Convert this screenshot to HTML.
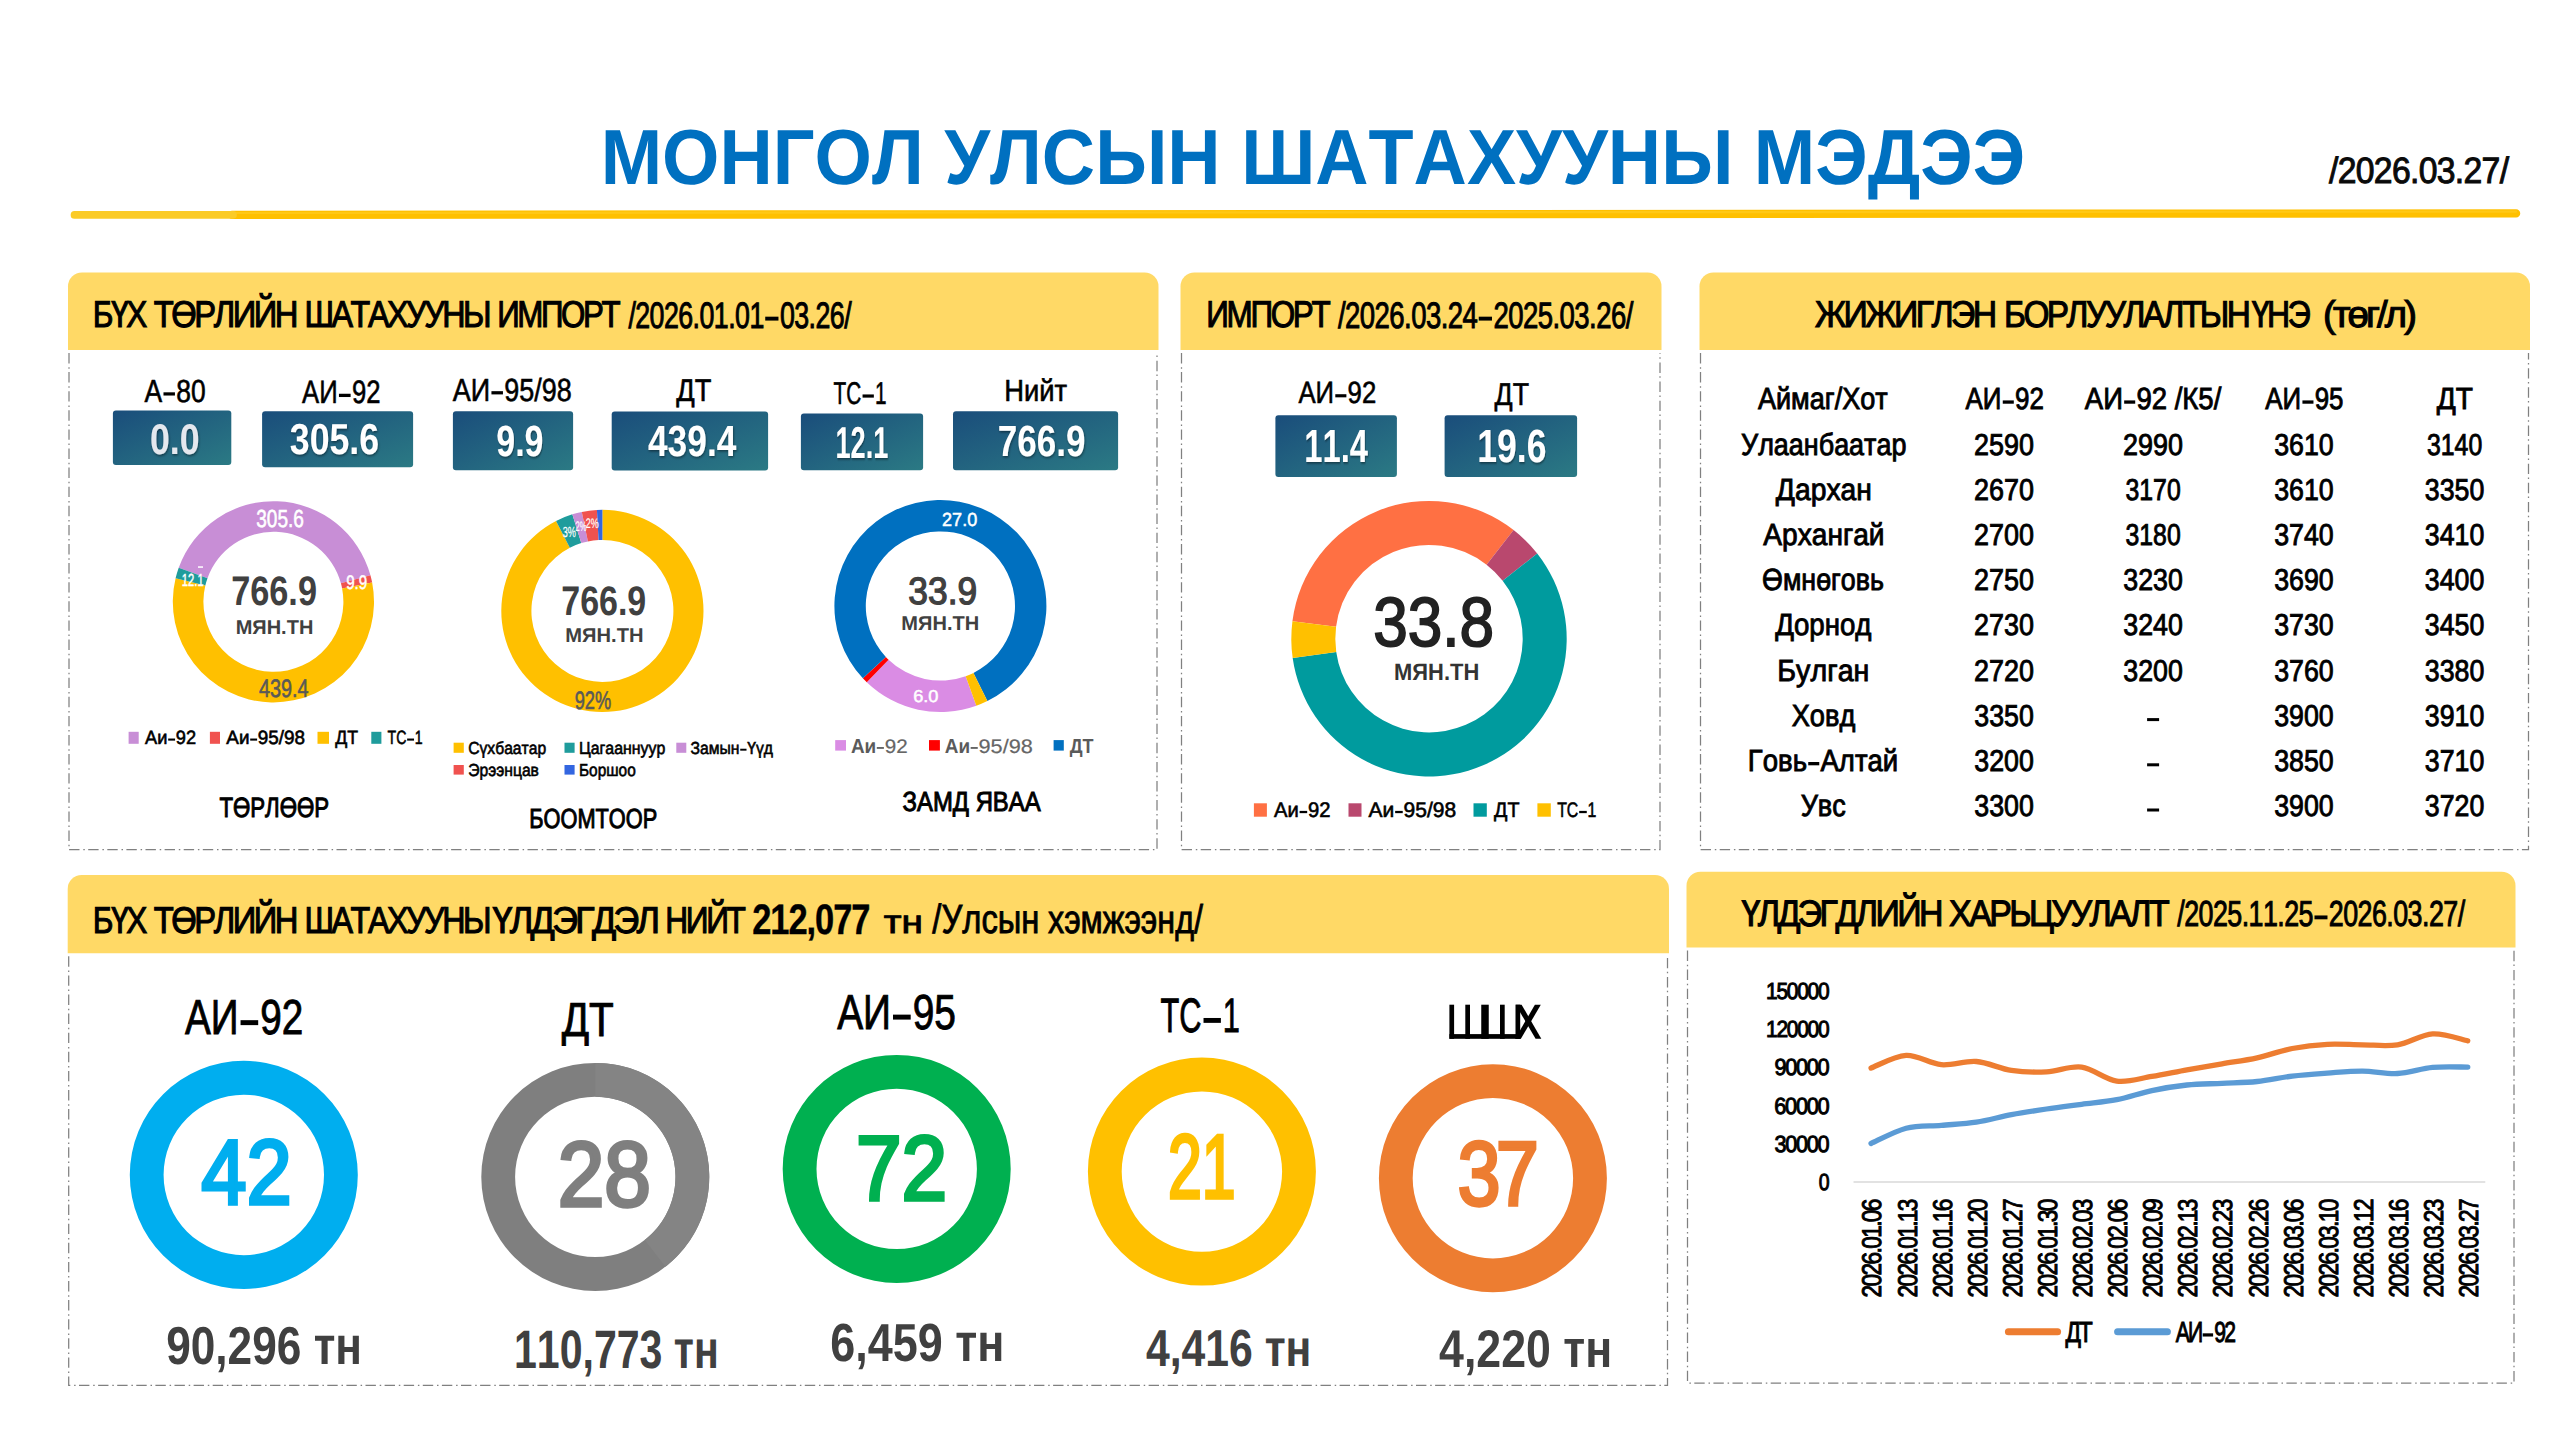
<!DOCTYPE html>
<html><head><meta charset="utf-8"><title>Монгол улсын шатахууны мэдээ</title>
<style>
html,body{margin:0;padding:0;background:#fff;}
body{width:2560px;height:1440px;overflow:hidden;}
svg{display:block;font-family:"Liberation Sans",sans-serif;font-kerning:none;text-rendering:geometricPrecision;}
</style></head><body>
<svg width="2560" height="1440" viewBox="0 0 2560 1440">
<rect width="2560" height="1440" fill="#fff"/>
<defs>
<linearGradient id="gb" x1="0" y1="0" x2="1" y2="1">
<stop offset="0" stop-color="#1a4d7b"/><stop offset="1" stop-color="#2b7a84"/>
</linearGradient>
<filter id="ts" x="-10%" y="-10%" width="120%" height="130%">
<feDropShadow dx="0.8" dy="1.5" stdDeviation="1" flood-color="#000" flood-opacity="0.45"/>
</filter>
</defs>
<text transform="translate(600.66,184.30) scale(0.9435,1)" font-size="78.20" font-weight="700" fill="#0070C0">МОНГОЛ УЛСЫН ШАТАХУУНЫ МЭДЭЭ</text>
<text transform="translate(2329.00,183.10) scale(0.9185,1)" font-size="36.71" font-weight="400" fill="#0a0a0a" stroke="#0a0a0a" stroke-width="1.00" stroke-linejoin="miter" letter-spacing="-0.734">/2026.03.27/</text>
<line x1="2516.1" y1="213.4" x2="232" y2="214.85" stroke="#FFC000" stroke-width="8.3" stroke-linecap="round"/>
<line x1="2516.1" y1="211.6" x2="232" y2="213.0" stroke="#FFD028" stroke-width="2.2" stroke-linecap="round" opacity="0.55"/>
<line x1="74.5" y1="214.9" x2="233" y2="214.85" stroke="#FBCB27" stroke-width="7.7" stroke-linecap="round"/>
<path fill="#FFD966" d="M68.0,350.0 V286.5 a14,14 0 0 1 14,-14 H1144.5 a14,14 0 0 1 14,14 V350.0 Z"/>
<path fill="none" stroke="#808080" stroke-width="1.25" stroke-dasharray="10.4 3.8 1.5 3.4" d="M69.0,353.0 V849.5 H1157.0 V353.0"/>
<path fill="#FFD966" d="M1180.5,350.0 V286.5 a14,14 0 0 1 14,-14 H1647.5 a14,14 0 0 1 14,14 V350.0 Z"/>
<path fill="none" stroke="#808080" stroke-width="1.25" stroke-dasharray="10.4 3.8 1.5 3.4" d="M1181.5,353.0 V849.5 H1660.0 V353.0"/>
<path fill="#FFD966" d="M1699.5,350.0 V286.5 a14,14 0 0 1 14,-14 H2516.0 a14,14 0 0 1 14,14 V350.0 Z"/>
<path fill="none" stroke="#808080" stroke-width="1.25" stroke-dasharray="10.4 3.8 1.5 3.4" d="M1700.5,353.0 V849.5 H2528.5 V353.0"/>
<path fill="#FFD966" d="M67.7,953.3 V889.0 a14,14 0 0 1 14,-14 H1655.0 a14,14 0 0 1 14,14 V953.3 Z"/>
<path fill="none" stroke="#808080" stroke-width="1.25" stroke-dasharray="10.4 3.8 1.5 3.4" d="M68.7,956.3 V1385.3 H1667.5 V956.3"/>
<path fill="#FFD966" d="M1686.5,947.5 V885.7 a14,14 0 0 1 14,-14 H2501.5 a14,14 0 0 1 14,14 V947.5 Z"/>
<path fill="none" stroke="#808080" stroke-width="1.25" stroke-dasharray="10.4 3.8 1.5 3.4" d="M1687.5,950.5 V1383.0 H2514.0 V950.5"/>
<text transform="translate(92.86,327.45) scale(0.8447,1)" font-size="37.28" font-weight="400" fill="#000" stroke="#000" stroke-width="1.10" stroke-linejoin="miter" letter-spacing="-2.796">БҮХ</text>
<text transform="translate(153.80,327.45) scale(0.8779,1)" font-size="37.28" font-weight="400" fill="#000" stroke="#000" stroke-width="1.10" stroke-linejoin="miter" letter-spacing="-2.796">ТӨРЛИЙН</text>
<text transform="translate(304.39,327.45) scale(0.8653,1)" font-size="37.28" font-weight="400" fill="#000" stroke="#000" stroke-width="1.10" stroke-linejoin="miter" letter-spacing="-2.796">ШАТАХУУНЫ</text>
<text transform="translate(497.18,327.45) scale(0.8384,1)" font-size="37.28" font-weight="400" fill="#000" stroke="#000" stroke-width="1.10" stroke-linejoin="miter" letter-spacing="-2.796">ИМПОРТ</text>
<text transform="translate(628.40,327.50) scale(0.7268,1)" font-size="36.79" font-weight="400" fill="#000" stroke="#000" stroke-width="1.00" stroke-linejoin="miter" letter-spacing="-0.736">/2026.01.01<tspan dx="22.27">03.26/</tspan></text>
<rect x="765.23" y="316.68" width="13.24" height="3.91" fill="#000"/>
<text transform="translate(1206.36,327.45) scale(0.8440,1)" font-size="37.28" font-weight="400" fill="#000" stroke="#000" stroke-width="1.10" stroke-linejoin="miter" letter-spacing="-2.796">ИМПОРТ</text>
<text transform="translate(1337.90,327.50) scale(0.7484,1)" font-size="36.79" font-weight="400" fill="#000" stroke="#000" stroke-width="1.00" stroke-linejoin="miter" letter-spacing="-0.736">/2026.03.24<tspan dx="21.63">2025.03.26/</tspan></text>
<rect x="1478.75" y="316.68" width="13.24" height="3.91" fill="#000"/>
<text transform="translate(1814.98,327.45) scale(0.9061,1)" font-size="37.28" font-weight="400" fill="#000" stroke="#000" stroke-width="1.10" stroke-linejoin="miter" letter-spacing="-2.796">ЖИЖИГЛЭН</text>
<text transform="translate(2004.00,327.45) scale(0.8955,1)" font-size="37.28" font-weight="400" fill="#000" stroke="#000" stroke-width="1.10" stroke-linejoin="miter" letter-spacing="-2.796">БОРЛУУЛАЛТЫН</text>
<text transform="translate(2251.63,327.45) scale(0.8574,1)" font-size="37.28" font-weight="400" fill="#000" stroke="#000" stroke-width="1.10" stroke-linejoin="miter" letter-spacing="-2.796">ҮНЭ</text>
<text transform="translate(2323.07,327.45) scale(1.0250,1)" font-size="37.28" font-weight="400" fill="#000" stroke="#000" stroke-width="1.10" stroke-linejoin="miter" letter-spacing="-2.796">(төг/л)</text>
<text transform="translate(92.86,933.15) scale(0.8464,1)" font-size="37.21" font-weight="400" fill="#000" stroke="#000" stroke-width="1.10" stroke-linejoin="miter" letter-spacing="-2.791">БҮХ</text>
<text transform="translate(153.80,933.15) scale(0.8797,1)" font-size="37.21" font-weight="400" fill="#000" stroke="#000" stroke-width="1.10" stroke-linejoin="miter" letter-spacing="-2.791">ТӨРЛИЙН</text>
<text transform="translate(304.40,933.15) scale(0.8665,1)" font-size="37.21" font-weight="400" fill="#000" stroke="#000" stroke-width="1.10" stroke-linejoin="miter" letter-spacing="-2.791">ШАТАХУУНЫ</text>
<text transform="translate(492.59,933.15) scale(0.9618,1)" font-size="37.21" font-weight="400" fill="#000" stroke="#000" stroke-width="1.10" stroke-linejoin="miter" letter-spacing="-2.791">ҮЛДЭГДЭЛ</text>
<text transform="translate(665.24,933.15) scale(0.8514,1)" font-size="37.21" font-weight="400" fill="#000" stroke="#000" stroke-width="1.10" stroke-linejoin="miter" letter-spacing="-2.791">НИЙТ</text>
<text transform="translate(752.17,933.50) scale(0.8097,1)" font-size="42.57" font-weight="700" fill="#000" stroke="#000" stroke-width="0.40" stroke-linejoin="miter" letter-spacing="-1.277">212,077</text>
<text transform="translate(883.70,933.25) scale(1.1821,1)" font-size="32.77" font-weight="400" fill="#000" stroke="#000" stroke-width="0.90" stroke-linejoin="miter">тн</text>
<text transform="translate(932.36,933.25) scale(0.8050,1)" font-size="40.70" font-weight="400" fill="#000" stroke="#000" stroke-width="0.90" stroke-linejoin="miter">/Улсын</text>
<text transform="translate(1048.00,933.25) scale(0.8069,1)" font-size="40.00" font-weight="400" fill="#000" stroke="#000" stroke-width="0.90" stroke-linejoin="miter">хэмжээнд/</text>
<text transform="translate(1741.41,925.95) scale(0.9178,1)" font-size="36.92" font-weight="400" fill="#000" stroke="#000" stroke-width="1.10" stroke-linejoin="miter" letter-spacing="-2.769">ҮЛДЭГДЛИЙН</text>
<text transform="translate(1949.08,925.95) scale(0.9184,1)" font-size="36.92" font-weight="400" fill="#000" stroke="#000" stroke-width="1.10" stroke-linejoin="miter" letter-spacing="-2.769">ХАРЬЦУУЛАЛТ</text>
<text transform="translate(2177.30,926.10) scale(0.7418,1)" font-size="36.14" font-weight="400" fill="#000" stroke="#000" stroke-width="1.00" stroke-linejoin="miter" letter-spacing="-0.723">/2025.11.25<tspan dx="21.44">2026.03.27/</tspan></text>
<rect x="2314.48" y="915.46" width="13.01" height="3.85" fill="#000"/>
<text transform="translate(144.59,401.60) scale(0.8298,1)" font-size="31.83" font-weight="400" fill="#000" stroke="#000" stroke-width="0.60" stroke-linejoin="miter">А<tspan dx="16.88">80</tspan></text>
<rect x="163.48" y="392.32" width="11.46" height="3.22" fill="#000"/>
<text transform="translate(302.09,403.20) scale(0.7917,1)" font-size="32.41" font-weight="400" fill="#000" stroke="#000" stroke-width="0.60" stroke-linejoin="miter">АИ<tspan dx="18.02">92</tspan></text>
<rect x="338.94" y="393.75" width="11.67" height="3.28" fill="#000"/>
<text transform="translate(452.79,400.50) scale(0.8435,1)" font-size="31.98" font-weight="400" fill="#000" stroke="#000" stroke-width="0.60" stroke-linejoin="miter">АИ<tspan dx="16.68">95/98</tspan></text>
<rect x="491.44" y="391.17" width="11.51" height="3.24" fill="#000"/>
<text transform="translate(676.24,401.30) scale(0.8772,1)" font-size="31.10" font-weight="400" fill="#000" stroke="#000" stroke-width="0.60" stroke-linejoin="miter">ДТ</text>
<text transform="translate(833.57,403.60) scale(0.6624,1)" font-size="31.40" font-weight="400" fill="#000" stroke="#000" stroke-width="0.60" stroke-linejoin="miter">ТС<tspan dx="20.85">1</tspan></text>
<rect x="862.55" y="394.44" width="11.30" height="3.19" fill="#000"/>
<text transform="translate(1004.19,401.30) scale(0.8975,1)" font-size="30.52" font-weight="400" fill="#000" stroke="#000" stroke-width="0.60" stroke-linejoin="miter">Нийт</text>
<rect x="112.9" y="410.6" width="118.4" height="54.4" rx="3" fill="url(#gb)"/>
<rect x="262.1" y="411.3" width="151.0" height="56.0" rx="3" fill="url(#gb)"/>
<rect x="452.9" y="411.2" width="120.2" height="59.1" rx="3" fill="url(#gb)"/>
<rect x="611.7" y="411.4" width="156.4" height="59.1" rx="3" fill="url(#gb)"/>
<rect x="800.9" y="413.4" width="122.2" height="56.9" rx="3" fill="url(#gb)"/>
<rect x="953.0" y="411.2" width="165.1" height="59.1" rx="3" fill="url(#gb)"/>
<text transform="translate(149.89,454.00) scale(0.8339,1)" font-size="42.86" font-weight="700" fill="#e4e8ee" filter="url(#ts)">0.0</text>
<text transform="translate(289.78,454.40) scale(0.8218,1)" font-size="43.43" font-weight="700" fill="#fff" filter="url(#ts)">305.6</text>
<text transform="translate(496.22,456.30) scale(0.7816,1)" font-size="43.57" font-weight="700" fill="#fff" filter="url(#ts)">9.9</text>
<text transform="translate(647.97,456.30) scale(0.8110,1)" font-size="43.57" font-weight="700" fill="#fff" filter="url(#ts)">439.4</text>
<text transform="translate(835.49,457.70) scale(0.6075,1)" font-size="44.71" font-weight="700" fill="#fff" filter="url(#ts)">12.1</text>
<text transform="translate(997.69,455.70) scale(0.8027,1)" font-size="43.71" font-weight="700" fill="#fff" filter="url(#ts)">766.9</text>
<path fill="#C88ED6" d="M178.72,567.81 A100.60,100.60 0 0,1 370.43,575.25 L340.92,583.33 A70.00,70.00 0 0,0 207.52,578.15 Z"/>
<path fill="#F0524F" d="M370.43,575.25 A100.60,100.60 0 0,1 372.15,582.60 L342.11,588.44 A70.00,70.00 0 0,0 340.92,583.33 Z"/>
<path fill="#FFC000" d="M372.15,582.60 A100.60,100.60 0 1,1 175.58,578.32 L205.33,585.46 A70.00,70.00 0 1,0 342.11,588.44 Z"/>
<path fill="#1F9C9C" d="M175.58,578.32 A100.60,100.60 0 0,1 178.72,567.81 L207.52,578.15 A70.00,70.00 0 0,0 205.33,585.46 Z"/>
<text transform="translate(256.21,527.20) scale(0.7755,1)" font-size="24.57" font-weight="400" fill="#fff" stroke="#fff" stroke-width="0.60" stroke-linejoin="miter">305.6</text>
<text transform="translate(346.19,588.95) scale(0.7728,1)" font-size="19.57" font-weight="400" fill="#fff" stroke="#fff" stroke-width="0.50" stroke-linejoin="miter">9.9</text>
<text transform="translate(181.85,585.55) scale(0.6374,1)" font-size="17.57" font-weight="400" fill="#fff" stroke="#fff" stroke-width="0.50" stroke-linejoin="miter">12.1</text>
<rect x="198.00" y="566.30" width="5.00" height="1.50" rx="0" fill="#fff"/>
<text transform="translate(258.98,697.20) scale(0.7848,1)" font-size="25.29" font-weight="400" fill="#595959" stroke="#595959" stroke-width="0.60" stroke-linejoin="miter">439.4</text>
<text transform="translate(231.13,605.40) scale(0.8309,1)" font-size="41.29" font-weight="700" fill="#404040">766.9</text>
<text transform="translate(235.66,633.60) scale(1.0042,1)" font-size="19.91" font-weight="700" fill="#404040">МЯН.ТН</text>
<rect x="128.60" y="731.80" width="10.10" height="12.00" rx="0" fill="#C88ED6"/>
<text transform="translate(145.10,744.20) scale(0.9481,1)" font-size="19.19" font-weight="400" fill="#000" stroke="#000" stroke-width="0.60" stroke-linejoin="miter">Аи<tspan dx="8.90">92</tspan></text>
<rect x="168.17" y="738.53" width="6.91" height="2.09" fill="#000"/>
<rect x="209.90" y="731.80" width="10.10" height="12.00" rx="0" fill="#F0524F"/>
<text transform="translate(226.30,744.20) scale(0.9833,1)" font-size="19.19" font-weight="400" fill="#000" stroke="#000" stroke-width="0.60" stroke-linejoin="miter">Аи<tspan dx="8.58">95/98</tspan></text>
<rect x="250.19" y="738.53" width="6.91" height="2.09" fill="#000"/>
<rect x="317.50" y="731.80" width="11.50" height="12.00" rx="0" fill="#FFC000"/>
<text transform="translate(335.31,744.20) scale(0.9249,1)" font-size="19.19" font-weight="400" fill="#000" stroke="#000" stroke-width="0.60" stroke-linejoin="miter">ДТ</text>
<rect x="371.30" y="731.80" width="10.10" height="12.00" rx="0" fill="#1F9C9C"/>
<text transform="translate(387.52,744.20) scale(0.7362,1)" font-size="19.19" font-weight="400" fill="#000" stroke="#000" stroke-width="0.60" stroke-linejoin="miter">ТС<tspan dx="11.47">1</tspan></text>
<rect x="407.12" y="738.53" width="6.91" height="2.09" fill="#000"/>
<text transform="translate(219.40,817.10) scale(0.7964,1)" font-size="27.91" font-weight="400" fill="#000" stroke="#000" stroke-width="1.00" stroke-linejoin="miter">ТӨРЛӨӨР</text>
<path fill="#FFC000" d="M602.40,509.80 A101.10,101.10 0 1,1 556.03,521.06 L569.84,547.81 A71.00,71.00 0 1,0 602.40,539.90 Z"/>
<path fill="#1F9C9C" d="M556.03,521.06 A101.10,101.10 0 0,1 572.34,514.37 L581.29,543.11 A71.00,71.00 0 0,0 569.84,547.81 Z"/>
<path fill="#C88ED6" d="M572.34,514.37 A101.10,101.10 0 0,1 581.81,511.92 L587.94,541.39 A71.00,71.00 0 0,0 581.29,543.11 Z"/>
<path fill="#F0524F" d="M581.81,511.92 A101.10,101.10 0 0,1 596.93,509.95 L598.56,540.00 A71.00,71.00 0 0,0 587.94,541.39 Z"/>
<path fill="#3366E0" d="M596.93,509.95 A101.10,101.10 0 0,1 602.40,509.80 L602.40,539.90 A71.00,71.00 0 0,0 598.56,540.00 Z"/>
<text transform="translate(562.73,536.70) scale(0.6228,1)" font-size="14.68" font-weight="400" fill="#fff" stroke="#fff" stroke-width="0.20" stroke-linejoin="miter">3%</text>
<text transform="translate(575.40,530.60) scale(0.5509,1)" font-size="13.81" font-weight="400" fill="#fff" stroke="#fff" stroke-width="0.20" stroke-linejoin="miter">2%</text>
<text transform="translate(585.83,528.40) scale(0.6468,1)" font-size="13.81" font-weight="400" fill="#fff" stroke="#fff" stroke-width="0.20" stroke-linejoin="miter">2%</text>
<text transform="translate(574.68,709.20) scale(0.7216,1)" font-size="25.29" font-weight="400" fill="#595959" stroke="#595959" stroke-width="0.60" stroke-linejoin="miter">92%</text>
<text transform="translate(561.24,614.50) scale(0.8229,1)" font-size="41.29" font-weight="700" fill="#404040">766.9</text>
<text transform="translate(565.35,641.60) scale(1.0036,1)" font-size="20.06" font-weight="700" fill="#404040">МЯН.ТН</text>
<rect x="453.60" y="742.70" width="10.20" height="10.10" rx="0" fill="#FFC000"/>
<text transform="translate(468.25,753.90) scale(0.8970,1)" font-size="17.44" font-weight="400" fill="#000" stroke="#000" stroke-width="0.60" stroke-linejoin="miter">Сүхбаатар</text>
<rect x="564.50" y="742.70" width="10.10" height="10.10" rx="0" fill="#1F9C9C"/>
<text transform="translate(578.94,753.90) scale(0.9116,1)" font-size="17.44" font-weight="400" fill="#000" stroke="#000" stroke-width="0.60" stroke-linejoin="miter">Цагааннуур</text>
<rect x="676.30" y="742.70" width="10.00" height="10.10" rx="0" fill="#C88ED6"/>
<text transform="translate(690.42,753.90) scale(0.9028,1)" font-size="17.44" font-weight="400" fill="#000" stroke="#000" stroke-width="0.60" stroke-linejoin="miter">Замын<tspan dx="8.50">Үүд</tspan></text>
<rect x="740.23" y="748.73" width="6.28" height="1.93" fill="#000"/>
<rect x="453.60" y="765.00" width="10.20" height="9.60" rx="0" fill="#F0524F"/>
<text transform="translate(468.24,775.60) scale(0.8993,1)" font-size="17.44" font-weight="400" fill="#000" stroke="#000" stroke-width="0.60" stroke-linejoin="miter">Эрээнцав</text>
<rect x="564.50" y="765.00" width="10.10" height="9.60" rx="0" fill="#3366E0"/>
<text transform="translate(578.98,775.60) scale(0.8831,1)" font-size="17.44" font-weight="400" fill="#000" stroke="#000" stroke-width="0.60" stroke-linejoin="miter">Боршоо</text>
<text transform="translate(529.31,827.50) scale(0.7881,1)" font-size="27.62" font-weight="400" fill="#000" stroke="#000" stroke-width="1.00" stroke-linejoin="miter">БООМТООР</text>
<path fill="#DA8CE4" d="M976.31,705.73 A106.00,106.00 0 0,1 866.77,682.25 L888.58,659.66 A74.60,74.60 0 0,0 965.67,676.19 Z"/>
<path fill="#FF0000" d="M866.77,682.25 A106.00,106.00 0 0,1 862.88,678.29 L885.84,656.88 A74.60,74.60 0 0,0 888.58,659.66 Z"/>
<path fill="#0070C0" d="M862.88,678.29 A106.00,106.00 0 1,1 987.37,701.03 L973.45,672.88 A74.60,74.60 0 1,0 885.84,656.88 Z"/>
<path fill="#FFC000" d="M987.37,701.03 A106.00,106.00 0 0,1 976.31,705.73 L965.67,676.19 A74.60,74.60 0 0,0 973.45,672.88 Z"/>
<text transform="translate(942.09,525.75) scale(0.9567,1)" font-size="18.86" font-weight="400" fill="#fff" stroke="#fff" stroke-width="0.50" stroke-linejoin="miter">27.0</text>
<text transform="translate(913.17,701.95) scale(1.0544,1)" font-size="17.29" font-weight="400" fill="#fff" stroke="#fff" stroke-width="0.50" stroke-linejoin="miter">6.0</text>
<text transform="translate(908.37,603.75) scale(0.9300,1)" font-size="38.00" font-weight="400" fill="#404040" stroke="#404040" stroke-width="1.30" stroke-linejoin="miter">33.9</text>
<text transform="translate(901.36,630.00) scale(1.0056,1)" font-size="19.91" font-weight="700" fill="#404040">МЯН.ТН</text>
<rect x="835.20" y="740.10" width="10.80" height="10.50" rx="0" fill="#DA8CE4"/>
<text transform="translate(850.93,752.80) scale(0.9293,1)" font-size="20.35" font-weight="700" fill="#5a5a5a">Аи</text>
<text transform="translate(876.01,752.70) scale(1.0476,1)" font-size="19.71" font-weight="400" fill="#666" stroke="#666" stroke-width="0.20" stroke-linejoin="miter"><tspan dx="8.28">92</tspan></text>
<rect x="876.80" y="747.00" width="7.10" height="1.89" fill="#666"/>
<rect x="929.00" y="740.10" width="10.90" height="10.50" rx="0" fill="#FF0000"/>
<text transform="translate(944.83,752.80) scale(0.9293,1)" font-size="20.35" font-weight="700" fill="#5a5a5a">Аи</text>
<text transform="translate(969.86,752.70) scale(1.1012,1)" font-size="19.71" font-weight="400" fill="#666" stroke="#666" stroke-width="0.20" stroke-linejoin="miter"><tspan dx="7.88">95/98</tspan></text>
<rect x="970.65" y="747.00" width="7.10" height="1.89" fill="#666"/>
<rect x="1053.60" y="740.10" width="10.20" height="10.50" rx="0" fill="#0070C0"/>
<text transform="translate(1069.74,752.80) scale(0.8858,1)" font-size="20.35" font-weight="700" fill="#5a5a5a">ДТ</text>
<text transform="translate(902.62,811.10) scale(0.8644,1)" font-size="27.62" font-weight="400" fill="#000" stroke="#000" stroke-width="1.00" stroke-linejoin="miter">ЗАМД ЯВАА</text>
<text transform="translate(1298.39,403.20) scale(0.8354,1)" font-size="30.81" font-weight="400" fill="#000" stroke="#000" stroke-width="0.60" stroke-linejoin="miter">АИ<tspan dx="16.23">92</tspan></text>
<rect x="1335.30" y="394.21" width="11.09" height="3.13" fill="#000"/>
<text transform="translate(1494.54,404.50) scale(0.8514,1)" font-size="31.40" font-weight="400" fill="#000" stroke="#000" stroke-width="0.60" stroke-linejoin="miter">ДТ</text>
<rect x="1275.4" y="415.2" width="121.5" height="61.7" rx="3" fill="url(#gb)"/>
<rect x="1444.6" y="415.2" width="132.5" height="61.7" rx="3" fill="url(#gb)"/>
<text transform="translate(1304.34,461.60) scale(0.7054,1)" font-size="46.43" font-weight="700" fill="#fff" filter="url(#ts)">11.4</text>
<text transform="translate(1477.26,461.80) scale(0.7614,1)" font-size="46.71" font-weight="700" fill="#fff" filter="url(#ts)">19.6</text>
<path fill="#FF7043" d="M1292.42,621.20 A137.70,137.70 0 0,1 1513.59,530.04 L1486.56,564.76 A93.70,93.70 0 0,0 1336.06,626.79 Z"/>
<path fill="#B9486E" d="M1513.59,530.04 A137.70,137.70 0 0,1 1537.21,553.55 L1502.63,580.76 A93.70,93.70 0 0,0 1486.56,564.76 Z"/>
<path fill="#009B9E" d="M1537.21,553.55 A137.70,137.70 0 1,1 1292.67,658.10 L1336.23,651.90 A93.70,93.70 0 1,0 1502.63,580.76 Z"/>
<path fill="#FFC000" d="M1292.67,658.10 A137.70,137.70 0 0,1 1292.42,621.20 L1336.06,626.79 A93.70,93.70 0 0,0 1336.23,651.90 Z"/>
<text transform="translate(1373.25,646.10) scale(0.8912,1)" font-size="69.71" font-weight="400" fill="#222" stroke="#222" stroke-width="1.80" stroke-linejoin="miter">33.8</text>
<text transform="translate(1394.03,679.50) scale(0.9262,1)" font-size="23.69" font-weight="700" fill="#333">МЯН.ТН</text>
<rect x="1253.90" y="803.30" width="13.00" height="13.40" rx="0" fill="#FF7043"/>
<text transform="translate(1274.00,817.10) scale(0.9580,1)" font-size="21.08" font-weight="400" fill="#000" stroke="#000" stroke-width="0.60" stroke-linejoin="miter">Аи<tspan dx="9.68">92</tspan></text>
<rect x="1299.59" y="810.89" width="7.59" height="2.26" fill="#000"/>
<rect x="1348.50" y="803.30" width="13.00" height="13.40" rx="0" fill="#B9486E"/>
<text transform="translate(1368.60,817.10) scale(0.9953,1)" font-size="21.08" font-weight="400" fill="#000" stroke="#000" stroke-width="0.60" stroke-linejoin="miter">Аи<tspan dx="9.32">95/98</tspan></text>
<rect x="1395.15" y="810.89" width="7.59" height="2.26" fill="#000"/>
<rect x="1473.50" y="803.30" width="13.30" height="13.40" rx="0" fill="#009B9E"/>
<text transform="translate(1494.10,817.10) scale(0.9363,1)" font-size="21.08" font-weight="400" fill="#000" stroke="#000" stroke-width="0.60" stroke-linejoin="miter">ДТ</text>
<rect x="1537.40" y="803.30" width="13.40" height="13.40" rx="0" fill="#FFC000"/>
<text transform="translate(1557.18,817.10) scale(0.7529,1)" font-size="21.08" font-weight="400" fill="#000" stroke="#000" stroke-width="0.60" stroke-linejoin="miter">ТС<tspan dx="12.32">1</tspan></text>
<rect x="1579.18" y="810.89" width="7.59" height="2.26" fill="#000"/>
<text transform="translate(1757.91,409.45) scale(0.8837,1)" font-size="30.67" font-weight="400" fill="#000" stroke="#000" stroke-width="0.90" stroke-linejoin="miter">Аймаг/Хот</text>
<text transform="translate(1965.56,409.45) scale(0.8464,1)" font-size="30.67" font-weight="400" fill="#000" stroke="#000" stroke-width="0.90" stroke-linejoin="miter">АИ<tspan dx="15.94">92</tspan></text>
<rect x="2002.76" y="400.41" width="11.04" height="3.30" fill="#000"/>
<text transform="translate(2084.81,409.45) scale(0.8975,1)" font-size="30.67" font-weight="400" fill="#000" stroke="#000" stroke-width="0.90" stroke-linejoin="miter">АИ<tspan dx="15.04">92 /К5/</tspan></text>
<rect x="2124.17" y="400.41" width="11.04" height="3.30" fill="#000"/>
<text transform="translate(2265.36,409.45) scale(0.8435,1)" font-size="30.67" font-weight="400" fill="#000" stroke="#000" stroke-width="0.90" stroke-linejoin="miter">АИ<tspan dx="16.00">95</tspan></text>
<rect x="2302.43" y="400.41" width="11.04" height="3.30" fill="#000"/>
<text transform="translate(2436.70,409.45) scale(0.9172,1)" font-size="30.67" font-weight="400" fill="#000" stroke="#000" stroke-width="0.90" stroke-linejoin="miter">ДТ</text>
<text transform="translate(1741.04,454.65) scale(0.8787,1)" font-size="30.67" font-weight="400" fill="#000" stroke="#000" stroke-width="0.90" stroke-linejoin="miter">Улаанбаатар</text>
<text transform="translate(1974.01,454.65) scale(0.8931,1)" font-size="30.14" font-weight="400" fill="#000" stroke="#000" stroke-width="0.90" stroke-linejoin="miter">2590</text>
<text transform="translate(2123.01,454.65) scale(0.8931,1)" font-size="30.14" font-weight="400" fill="#000" stroke="#000" stroke-width="0.90" stroke-linejoin="miter">2990</text>
<text transform="translate(2274.14,454.65) scale(0.8880,1)" font-size="30.14" font-weight="400" fill="#000" stroke="#000" stroke-width="0.90" stroke-linejoin="miter">3610</text>
<text transform="translate(2427.02,454.65) scale(0.8231,1)" font-size="30.14" font-weight="400" fill="#000" stroke="#000" stroke-width="0.90" stroke-linejoin="miter">3140</text>
<text transform="translate(1775.85,499.85) scale(0.9217,1)" font-size="30.67" font-weight="400" fill="#000" stroke="#000" stroke-width="0.90" stroke-linejoin="miter">Дархан</text>
<text transform="translate(1974.01,499.85) scale(0.8931,1)" font-size="30.14" font-weight="400" fill="#000" stroke="#000" stroke-width="0.90" stroke-linejoin="miter">2670</text>
<text transform="translate(2125.52,499.85) scale(0.8231,1)" font-size="30.14" font-weight="400" fill="#000" stroke="#000" stroke-width="0.90" stroke-linejoin="miter">3170</text>
<text transform="translate(2274.14,499.85) scale(0.8880,1)" font-size="30.14" font-weight="400" fill="#000" stroke="#000" stroke-width="0.90" stroke-linejoin="miter">3610</text>
<text transform="translate(2424.84,499.85) scale(0.8880,1)" font-size="30.14" font-weight="400" fill="#000" stroke="#000" stroke-width="0.90" stroke-linejoin="miter">3350</text>
<text transform="translate(1763.31,545.05) scale(0.9173,1)" font-size="30.67" font-weight="400" fill="#000" stroke="#000" stroke-width="0.90" stroke-linejoin="miter">Архангай</text>
<text transform="translate(1974.01,545.05) scale(0.8931,1)" font-size="30.14" font-weight="400" fill="#000" stroke="#000" stroke-width="0.90" stroke-linejoin="miter">2700</text>
<text transform="translate(2125.52,545.05) scale(0.8231,1)" font-size="30.14" font-weight="400" fill="#000" stroke="#000" stroke-width="0.90" stroke-linejoin="miter">3180</text>
<text transform="translate(2274.14,545.05) scale(0.8880,1)" font-size="30.14" font-weight="400" fill="#000" stroke="#000" stroke-width="0.90" stroke-linejoin="miter">3740</text>
<text transform="translate(2424.84,545.05) scale(0.8880,1)" font-size="30.14" font-weight="400" fill="#000" stroke="#000" stroke-width="0.90" stroke-linejoin="miter">3410</text>
<text transform="translate(1762.09,590.25) scale(0.8745,1)" font-size="30.67" font-weight="400" fill="#000" stroke="#000" stroke-width="0.90" stroke-linejoin="miter">Өмнөговь</text>
<text transform="translate(1974.01,590.25) scale(0.8931,1)" font-size="30.14" font-weight="400" fill="#000" stroke="#000" stroke-width="0.90" stroke-linejoin="miter">2750</text>
<text transform="translate(2123.34,590.25) scale(0.8880,1)" font-size="30.14" font-weight="400" fill="#000" stroke="#000" stroke-width="0.90" stroke-linejoin="miter">3230</text>
<text transform="translate(2274.14,590.25) scale(0.8880,1)" font-size="30.14" font-weight="400" fill="#000" stroke="#000" stroke-width="0.90" stroke-linejoin="miter">3690</text>
<text transform="translate(2424.84,590.25) scale(0.8880,1)" font-size="30.14" font-weight="400" fill="#000" stroke="#000" stroke-width="0.90" stroke-linejoin="miter">3400</text>
<text transform="translate(1775.16,635.45) scale(0.9025,1)" font-size="30.67" font-weight="400" fill="#000" stroke="#000" stroke-width="0.90" stroke-linejoin="miter">Дорнод</text>
<text transform="translate(1974.01,635.45) scale(0.8931,1)" font-size="30.14" font-weight="400" fill="#000" stroke="#000" stroke-width="0.90" stroke-linejoin="miter">2730</text>
<text transform="translate(2123.34,635.45) scale(0.8880,1)" font-size="30.14" font-weight="400" fill="#000" stroke="#000" stroke-width="0.90" stroke-linejoin="miter">3240</text>
<text transform="translate(2274.14,635.45) scale(0.8880,1)" font-size="30.14" font-weight="400" fill="#000" stroke="#000" stroke-width="0.90" stroke-linejoin="miter">3730</text>
<text transform="translate(2424.84,635.45) scale(0.8880,1)" font-size="30.14" font-weight="400" fill="#000" stroke="#000" stroke-width="0.90" stroke-linejoin="miter">3450</text>
<text transform="translate(1777.31,680.65) scale(0.9349,1)" font-size="30.67" font-weight="400" fill="#000" stroke="#000" stroke-width="0.90" stroke-linejoin="miter">Булган</text>
<text transform="translate(1974.01,680.65) scale(0.8931,1)" font-size="30.14" font-weight="400" fill="#000" stroke="#000" stroke-width="0.90" stroke-linejoin="miter">2720</text>
<text transform="translate(2123.34,680.65) scale(0.8880,1)" font-size="30.14" font-weight="400" fill="#000" stroke="#000" stroke-width="0.90" stroke-linejoin="miter">3200</text>
<text transform="translate(2274.14,680.65) scale(0.8880,1)" font-size="30.14" font-weight="400" fill="#000" stroke="#000" stroke-width="0.90" stroke-linejoin="miter">3760</text>
<text transform="translate(2424.84,680.65) scale(0.8880,1)" font-size="30.14" font-weight="400" fill="#000" stroke="#000" stroke-width="0.90" stroke-linejoin="miter">3380</text>
<text transform="translate(1791.75,725.85) scale(0.8864,1)" font-size="30.67" font-weight="400" fill="#000" stroke="#000" stroke-width="0.90" stroke-linejoin="miter">Ховд</text>
<text transform="translate(1974.34,725.85) scale(0.8880,1)" font-size="30.14" font-weight="400" fill="#000" stroke="#000" stroke-width="0.90" stroke-linejoin="miter">3350</text>
<rect x="2147.10" y="718.10" width="12.00" height="3.00" rx="0" fill="#000"/>
<text transform="translate(2274.14,725.85) scale(0.8880,1)" font-size="30.14" font-weight="400" fill="#000" stroke="#000" stroke-width="0.90" stroke-linejoin="miter">3900</text>
<text transform="translate(2424.84,725.85) scale(0.8880,1)" font-size="30.14" font-weight="400" fill="#000" stroke="#000" stroke-width="0.90" stroke-linejoin="miter">3910</text>
<text transform="translate(1747.80,771.05) scale(0.8979,1)" font-size="30.67" font-weight="400" fill="#000" stroke="#000" stroke-width="0.90" stroke-linejoin="miter">Говь<tspan dx="15.03">Алтай</tspan></text>
<rect x="1808.23" y="762.01" width="11.04" height="3.30" fill="#000"/>
<text transform="translate(1974.34,771.05) scale(0.8880,1)" font-size="30.14" font-weight="400" fill="#000" stroke="#000" stroke-width="0.90" stroke-linejoin="miter">3200</text>
<rect x="2147.10" y="763.30" width="12.00" height="3.00" rx="0" fill="#000"/>
<text transform="translate(2274.14,771.05) scale(0.8880,1)" font-size="30.14" font-weight="400" fill="#000" stroke="#000" stroke-width="0.90" stroke-linejoin="miter">3850</text>
<text transform="translate(2424.84,771.05) scale(0.8880,1)" font-size="30.14" font-weight="400" fill="#000" stroke="#000" stroke-width="0.90" stroke-linejoin="miter">3710</text>
<text transform="translate(1800.63,816.25) scale(0.8828,1)" font-size="30.67" font-weight="400" fill="#000" stroke="#000" stroke-width="0.90" stroke-linejoin="miter">Увс</text>
<text transform="translate(1974.34,816.25) scale(0.8880,1)" font-size="30.14" font-weight="400" fill="#000" stroke="#000" stroke-width="0.90" stroke-linejoin="miter">3300</text>
<rect x="2147.10" y="808.50" width="12.00" height="3.00" rx="0" fill="#000"/>
<text transform="translate(2274.14,816.25) scale(0.8880,1)" font-size="30.14" font-weight="400" fill="#000" stroke="#000" stroke-width="0.90" stroke-linejoin="miter">3900</text>
<text transform="translate(2424.84,816.25) scale(0.8880,1)" font-size="30.14" font-weight="400" fill="#000" stroke="#000" stroke-width="0.90" stroke-linejoin="miter">3720</text>
<text transform="translate(184.98,1034.45) scale(0.7899,1)" font-size="48.98" font-weight="400" fill="#000" stroke="#000" stroke-width="0.90" stroke-linejoin="miter">АИ<tspan dx="27.29">92</tspan></text>
<rect x="240.56" y="1020.17" width="17.63" height="4.95" fill="#000"/>
<path fill-rule="evenodd" fill="#00AEEF" d="M129.80,1174.90 a114.00,114.00 0 1,0 228.00,0 a114.00,114.00 0 1,0 -228.00,0Z M163.60,1174.90 a80.20,80.20 0 1,0 160.40,0 a80.20,80.20 0 1,0 -160.40,0Z"/>
<text transform="translate(201.17,1204.20) scale(0.8852,1)" font-size="92.00" font-weight="400" fill="#00AEEF" stroke="#00AEEF" stroke-width="3.60" stroke-linejoin="miter">42</text>
<text transform="translate(166.17,1364.40) scale(0.8273,1)" font-size="53.43" font-weight="700" fill="#404040">90,296 тн</text>
<text transform="translate(561.66,1036.45) scale(0.8459,1)" font-size="47.82" font-weight="400" fill="#000" stroke="#000" stroke-width="0.90" stroke-linejoin="miter">ДТ</text>
<path fill-rule="evenodd" fill="#7F7F7F" d="M481.30,1176.90 a114.00,114.00 0 1,0 228.00,0 a114.00,114.00 0 1,0 -228.00,0Z M515.10,1176.90 a80.20,80.20 0 1,0 160.40,0 a80.20,80.20 0 1,0 -160.40,0Z"/>
<path fill="#848484" d="M595.30,1062.90 A114.00,114.00 0 0,1 665.49,1266.73 L644.68,1240.10 A80.20,80.20 0 0,0 595.30,1096.70 Z"/>
<text transform="translate(557.72,1206.20) scale(0.9116,1)" font-size="92.00" font-weight="400" fill="#7F7F7F" stroke="#7F7F7F" stroke-width="3.60" stroke-linejoin="miter">28</text>
<text transform="translate(514.01,1367.80) scale(0.7584,1)" font-size="54.14" font-weight="700" fill="#404040">110,773 тн</text>
<text transform="translate(837.18,1028.95) scale(0.7910,1)" font-size="49.13" font-weight="400" fill="#000" stroke="#000" stroke-width="0.90" stroke-linejoin="miter">АИ<tspan dx="27.33">95</tspan></text>
<rect x="893.00" y="1014.63" width="17.69" height="4.96" fill="#000"/>
<path fill-rule="evenodd" fill="#00B050" d="M782.70,1168.90 a114.00,114.00 0 1,0 228.00,0 a114.00,114.00 0 1,0 -228.00,0Z M816.50,1168.90 a80.20,80.20 0 1,0 160.40,0 a80.20,80.20 0 1,0 -160.40,0Z"/>
<text transform="translate(855.93,1200.30) scale(0.8917,1)" font-size="92.00" font-weight="400" fill="#00B050" stroke="#00B050" stroke-width="3.60" stroke-linejoin="miter">72</text>
<text transform="translate(830.25,1360.60) scale(0.8393,1)" font-size="53.57" font-weight="700" fill="#404040">6,459 тн</text>
<text transform="translate(1160.57,1032.05) scale(0.6378,1)" font-size="48.26" font-weight="400" fill="#000" stroke="#000" stroke-width="0.90" stroke-linejoin="miter">ТС<tspan dx="33.29">1</tspan></text>
<rect x="1203.52" y="1017.98" width="17.37" height="4.88" fill="#000"/>
<path fill-rule="evenodd" fill="#FFC000" d="M1087.90,1171.60 a114.00,114.00 0 1,0 228.00,0 a114.00,114.00 0 1,0 -228.00,0Z M1121.70,1171.60 a80.20,80.20 0 1,0 160.40,0 a80.20,80.20 0 1,0 -160.40,0Z"/>
<text transform="translate(1167.98,1197.60) scale(0.6694,1)" font-size="90.86" font-weight="400" fill="#FFC000" stroke="#FFC000" stroke-width="3.60" stroke-linejoin="miter">21</text>
<text transform="translate(1145.95,1365.90) scale(0.8189,1)" font-size="52.14" font-weight="700" fill="#404040">4,416 тн</text>
<rect x="1449.40" y="1004.70" width="4.70" height="34.10" rx="0" fill="#000"/>
<rect x="1465.30" y="1004.70" width="4.70" height="34.10" rx="0" fill="#000"/>
<rect x="1481.25" y="1004.70" width="7.50" height="34.10" rx="0" fill="#000"/>
<rect x="1500.00" y="1004.70" width="4.70" height="34.10" rx="0" fill="#000"/>
<rect x="1515.50" y="1004.70" width="4.70" height="34.10" rx="0" fill="#000"/>
<rect x="1449.40" y="1034.10" width="71.20" height="4.70" rx="0" fill="#000"/>
<polygon fill="#000" points="1515.7,1004.7 1521.6,1004.7 1541.3,1038.8 1535.6,1038.8"/>
<polygon fill="#000" points="1534.9,1004.7 1540.8,1004.7 1520.9,1038.8 1515.2,1038.8"/>
<path fill-rule="evenodd" fill="#ED7D31" d="M1378.90,1178.20 a114.00,114.00 0 1,0 228.00,0 a114.00,114.00 0 1,0 -228.00,0Z M1412.70,1178.20 a80.20,80.20 0 1,0 160.40,0 a80.20,80.20 0 1,0 -160.40,0Z"/>
<text transform="translate(1457.82,1205.40) scale(0.8452,1)" font-size="90.86" font-weight="400" fill="#ED7D31" stroke="#ED7D31" stroke-width="3.60" stroke-linejoin="miter" letter-spacing="-5.451">37</text>
<text transform="translate(1439.02,1366.60) scale(0.8413,1)" font-size="53.14" font-weight="700" fill="#404040">4,220 тн</text>
<line x1="1853.5" y1="1182.0" x2="2485.3" y2="1182.0" stroke="#D9D9D9" stroke-width="1.6"/>
<text transform="translate(1818.74,1190.20) scale(0.8304,1)" font-size="23.43" font-weight="400" fill="#000" stroke="#000" stroke-width="1.00" stroke-linejoin="miter" letter-spacing="-1.406">0</text>
<text transform="translate(1774.57,1151.95) scale(0.9252,1)" font-size="23.43" font-weight="400" fill="#000" stroke="#000" stroke-width="1.00" stroke-linejoin="miter" letter-spacing="-1.406">30000</text>
<text transform="translate(1774.29,1113.70) scale(0.9300,1)" font-size="23.43" font-weight="400" fill="#000" stroke="#000" stroke-width="1.00" stroke-linejoin="miter" letter-spacing="-1.406">60000</text>
<text transform="translate(1774.38,1075.45) scale(0.9285,1)" font-size="23.43" font-weight="400" fill="#000" stroke="#000" stroke-width="1.00" stroke-linejoin="miter" letter-spacing="-1.406">90000</text>
<text transform="translate(1766.00,1037.20) scale(0.8941,1)" font-size="23.43" font-weight="400" fill="#000" stroke="#000" stroke-width="1.00" stroke-linejoin="miter" letter-spacing="-1.406">120000</text>
<text transform="translate(1766.00,998.95) scale(0.8941,1)" font-size="23.43" font-weight="400" fill="#000" stroke="#000" stroke-width="1.00" stroke-linejoin="miter" letter-spacing="-1.406">150000</text>
<path d="M1871.05,1068.00 C1876.90,1065.90 1894.45,1055.95 1906.15,1055.40 C1917.85,1054.85 1929.55,1063.68 1941.25,1064.70 C1952.95,1065.72 1964.65,1060.55 1976.35,1061.50 C1988.05,1062.45 1999.75,1068.68 2011.45,1070.40 C2023.15,1072.12 2034.85,1072.35 2046.55,1071.80 C2058.25,1071.25 2069.95,1065.55 2081.65,1067.10 C2093.35,1068.65 2105.05,1079.55 2116.75,1081.10 C2128.45,1082.65 2140.15,1078.28 2151.85,1076.40 C2163.55,1074.52 2175.25,1071.90 2186.95,1069.80 C2198.65,1067.70 2210.35,1065.80 2222.05,1063.80 C2233.75,1061.80 2245.45,1060.35 2257.15,1057.80 C2268.85,1055.25 2280.55,1050.75 2292.25,1048.50 C2303.95,1046.25 2315.65,1044.92 2327.35,1044.30 C2339.05,1043.68 2350.75,1044.72 2362.45,1044.80 C2374.15,1044.88 2385.85,1046.62 2397.55,1044.80 C2409.25,1042.98 2420.95,1034.57 2432.65,1033.90 C2444.35,1033.23 2461.90,1039.65 2467.75,1040.80" fill="none" stroke="#ED7D31" stroke-width="5.3" stroke-linecap="round" stroke-linejoin="round"/>
<path d="M1871.05,1143.50 C1876.90,1140.95 1894.45,1131.23 1906.15,1128.20 C1917.85,1125.17 1929.55,1126.30 1941.25,1125.30 C1952.95,1124.30 1964.65,1123.97 1976.35,1122.20 C1988.05,1120.43 1999.75,1116.90 2011.45,1114.70 C2023.15,1112.50 2034.85,1110.73 2046.55,1109.00 C2058.25,1107.27 2069.95,1105.85 2081.65,1104.30 C2093.35,1102.75 2105.05,1101.98 2116.75,1099.70 C2128.45,1097.42 2140.15,1093.05 2151.85,1090.60 C2163.55,1088.15 2175.25,1086.22 2186.95,1085.00 C2198.65,1083.78 2210.35,1083.88 2222.05,1083.30 C2233.75,1082.72 2245.45,1082.70 2257.15,1081.50 C2268.85,1080.30 2280.55,1077.50 2292.25,1076.10 C2303.95,1074.70 2315.65,1073.93 2327.35,1073.10 C2339.05,1072.27 2350.75,1071.03 2362.45,1071.10 C2374.15,1071.17 2385.85,1074.12 2397.55,1073.50 C2409.25,1072.88 2420.95,1068.47 2432.65,1067.40 C2444.35,1066.33 2461.90,1067.15 2467.75,1067.10" fill="none" stroke="#5B9BD5" stroke-width="5.3" stroke-linecap="round" stroke-linejoin="round"/>
<text transform="translate(1881.45,1297.44) rotate(-90) scale(0.8331,1)" font-size="27.14" font-weight="400" fill="#000" stroke="#000" stroke-width="1.00" letter-spacing="-1.900">2026.01.06</text>
<text transform="translate(1916.55,1297.44) rotate(-90) scale(0.8331,1)" font-size="27.14" font-weight="400" fill="#000" stroke="#000" stroke-width="1.00" letter-spacing="-1.900">2026.01.13</text>
<text transform="translate(1951.65,1297.44) rotate(-90) scale(0.8331,1)" font-size="27.14" font-weight="400" fill="#000" stroke="#000" stroke-width="1.00" letter-spacing="-1.900">2026.01.16</text>
<text transform="translate(1986.75,1297.44) rotate(-90) scale(0.8322,1)" font-size="27.14" font-weight="400" fill="#000" stroke="#000" stroke-width="1.00" letter-spacing="-1.900">2026.01.20</text>
<text transform="translate(2021.85,1297.44) rotate(-90) scale(0.8344,1)" font-size="27.14" font-weight="400" fill="#000" stroke="#000" stroke-width="1.00" letter-spacing="-1.900">2026.01.27</text>
<text transform="translate(2056.95,1297.44) rotate(-90) scale(0.8322,1)" font-size="27.14" font-weight="400" fill="#000" stroke="#000" stroke-width="1.00" letter-spacing="-1.900">2026.01.30</text>
<text transform="translate(2092.05,1297.44) rotate(-90) scale(0.8331,1)" font-size="27.14" font-weight="400" fill="#000" stroke="#000" stroke-width="1.00" letter-spacing="-1.900">2026.02.03</text>
<text transform="translate(2127.15,1297.44) rotate(-90) scale(0.8331,1)" font-size="27.14" font-weight="400" fill="#000" stroke="#000" stroke-width="1.00" letter-spacing="-1.900">2026.02.06</text>
<text transform="translate(2162.25,1297.44) rotate(-90) scale(0.8338,1)" font-size="27.14" font-weight="400" fill="#000" stroke="#000" stroke-width="1.00" letter-spacing="-1.900">2026.02.09</text>
<text transform="translate(2197.35,1297.44) rotate(-90) scale(0.8331,1)" font-size="27.14" font-weight="400" fill="#000" stroke="#000" stroke-width="1.00" letter-spacing="-1.900">2026.02.13</text>
<text transform="translate(2232.45,1297.44) rotate(-90) scale(0.8331,1)" font-size="27.14" font-weight="400" fill="#000" stroke="#000" stroke-width="1.00" letter-spacing="-1.900">2026.02.23</text>
<text transform="translate(2267.55,1297.44) rotate(-90) scale(0.8331,1)" font-size="27.14" font-weight="400" fill="#000" stroke="#000" stroke-width="1.00" letter-spacing="-1.900">2026.02.26</text>
<text transform="translate(2302.65,1297.44) rotate(-90) scale(0.8331,1)" font-size="27.14" font-weight="400" fill="#000" stroke="#000" stroke-width="1.00" letter-spacing="-1.900">2026.03.06</text>
<text transform="translate(2337.75,1297.44) rotate(-90) scale(0.8322,1)" font-size="27.14" font-weight="400" fill="#000" stroke="#000" stroke-width="1.00" letter-spacing="-1.900">2026.03.10</text>
<text transform="translate(2372.85,1297.44) rotate(-90) scale(0.8344,1)" font-size="27.14" font-weight="400" fill="#000" stroke="#000" stroke-width="1.00" letter-spacing="-1.900">2026.03.12</text>
<text transform="translate(2407.95,1297.44) rotate(-90) scale(0.8331,1)" font-size="27.14" font-weight="400" fill="#000" stroke="#000" stroke-width="1.00" letter-spacing="-1.900">2026.03.16</text>
<text transform="translate(2443.05,1297.44) rotate(-90) scale(0.8331,1)" font-size="27.14" font-weight="400" fill="#000" stroke="#000" stroke-width="1.00" letter-spacing="-1.900">2026.03.23</text>
<text transform="translate(2478.15,1297.44) rotate(-90) scale(0.8344,1)" font-size="27.14" font-weight="400" fill="#000" stroke="#000" stroke-width="1.00" letter-spacing="-1.900">2026.03.27</text>
<line x1="2008.4" y1="1331.8" x2="2057.6" y2="1331.8" stroke="#ED7D31" stroke-width="7" stroke-linecap="round"/>
<text transform="translate(2065.53,1341.90) scale(0.7913,1)" font-size="28.92" font-weight="400" fill="#000" stroke="#000" stroke-width="1.00" stroke-linejoin="miter" letter-spacing="-2.892">ДТ</text>
<line x1="2117.6" y1="1331.8" x2="2167.4" y2="1331.8" stroke="#5B9BD5" stroke-width="7" stroke-linecap="round"/>
<text transform="translate(2175.66,1341.90) scale(0.7300,1)" font-size="28.92" font-weight="400" fill="#000" stroke="#000" stroke-width="1.00" stroke-linejoin="miter" letter-spacing="-2.314">АИ<tspan dx="17.43">92</tspan></text>
<rect x="2202.70" y="1333.33" width="10.41" height="3.20" fill="#000"/>
</svg>
</body></html>
